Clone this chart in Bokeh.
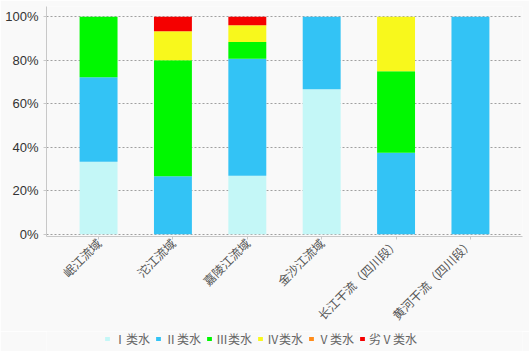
from bokeh.plotting import figure
from bokeh.layouts import column
from bokeh.models import ColumnDataSource, FixedTicker, NumeralTickFormatter, Range1d, Legend, LegendItem
from bokeh.embed import file_html
from bokeh.resources import INLINE
import math

categories = ["岷江流域", "沱江流域", "嘉陵江流域", "金沙江流域", "长江干流（四川段）", "黄河干流（四川段）"]
series_names = ["Ⅰ类水", "Ⅱ类水", "Ⅲ类水", "Ⅳ类水", "Ⅴ类水", "劣Ⅴ类水"]
class_I = [0.333, 0.0, 0.269, 0.667, 0.0, 0.0]
class_II = [0.389, 0.267, 0.538, 0.333, 0.375, 1.0]
class_III = [0.278, 0.533, 0.077, 0.0, 0.375, 0.0]
class_IV = [0.0, 0.133, 0.077, 0.0, 0.25, 0.0]
class_V = [0.0, 0.0, 0.0, 0.0, 0.0, 0.0]
class_VI = [0.0, 0.067, 0.039, 0.0, 0.0, 0.0]

colors = ["#c4f7f7", "#33c3f5", "#00f800", "#f8f81c", "#ff8c1a", "#f50000"]

keys = ["c1", "c2", "c3", "c4", "c5", "c6"]
xs = list(range(len(categories)))
source = ColumnDataSource(dict(x=xs, c1=class_I, c2=class_II, c3=class_III,
                               c4=class_IV, c5=class_V, c6=class_VI))

BG = "#f9f9f9"

p = figure(width=529, height=331, output_backend="svg", toolbar_location=None,
           x_range=Range1d(-0.7, 5.7), y_range=Range1d(-0.01, 1.047))
p.min_border_left = 46
p.min_border_right = 7
p.min_border_top = 6
p.min_border_bottom = 94
p.background_fill_color = BG
p.border_fill_color = BG
p.outline_line_color = None

rs = p.vbar_stack(keys, x="x", width=0.51, source=source, color=colors, line_color=None)

p.xgrid.grid_line_color = None
p.ygrid.grid_line_color = "#a0a0a0"
p.ygrid.grid_line_dash = "2 2"
p.ygrid.grid_line_width = 1

p.yaxis.ticker = FixedTicker(ticks=[0, 0.2, 0.4, 0.6, 0.8, 1.0])
p.yaxis.formatter = NumeralTickFormatter(format="0%")
p.yaxis.major_label_text_font = "Liberation Sans"
p.yaxis.major_label_text_font_size = "13px"
p.yaxis.major_label_text_color = "#333333"
p.yaxis.axis_line_color = "#c8c8c8"
p.yaxis.major_tick_line_color = "#c8c8c8"
p.yaxis.major_tick_out = 3
p.yaxis.major_tick_in = 0
p.yaxis.minor_tick_line_color = None

p.xaxis.ticker = FixedTicker(ticks=xs)
p.xaxis.major_label_overrides = {i: c for i, c in enumerate(categories)}
p.xaxis.major_label_orientation = math.pi / 4
p.xaxis.major_label_standoff = 1
p.xaxis.major_label_text_font = "Noto Sans CJK SC"
p.xaxis.major_label_text_font_size = "12px"
p.xaxis.major_label_text_color = "#555555"
p.xaxis.axis_line_color = "#c8c8c8"
p.xaxis.major_tick_line_color = "#c8c8c8"
p.xaxis.major_tick_out = 3
p.xaxis.major_tick_in = 0
p.xaxis.minor_tick_line_color = None

# legend strip
q = figure(width=529, height=20, output_backend="svg", toolbar_location=None,
           x_axis_type=None, y_axis_type=None,
           x_range=Range1d(-0.7, 5.7), y_range=Range1d(5, 6))
q.min_border_left = 0
q.min_border_right = 0
q.min_border_top = 0
q.min_border_bottom = 0
q.background_fill_color = BG
q.border_fill_color = BG
q.outline_line_color = None
q.xgrid.grid_line_color = None
q.ygrid.grid_line_color = None
qs = q.vbar_stack(keys, x="x", width=0.51, source=source, color=colors, line_color=None)

items = [LegendItem(label=n, renderers=[r]) for n, r in zip(series_names, qs)]
legend = Legend(items=items, orientation="horizontal", location=(58, 4), nrows=1)
legend.glyph_width = 6
legend.glyph_height = 5
legend.label_standoff = 4
legend.spacing = 5
legend.padding = 0
legend.margin = 0
legend.border_line_color = None
legend.background_fill_alpha = 0
legend.label_text_font = "Noto Sans CJK SC"
legend.label_text_font_size = "12px"
legend.label_text_color = "#666666"
q.add_layout(legend, "center")

layout = column(p, q, spacing=0)
open("out.html", "w").write(file_html(layout, INLINE))
